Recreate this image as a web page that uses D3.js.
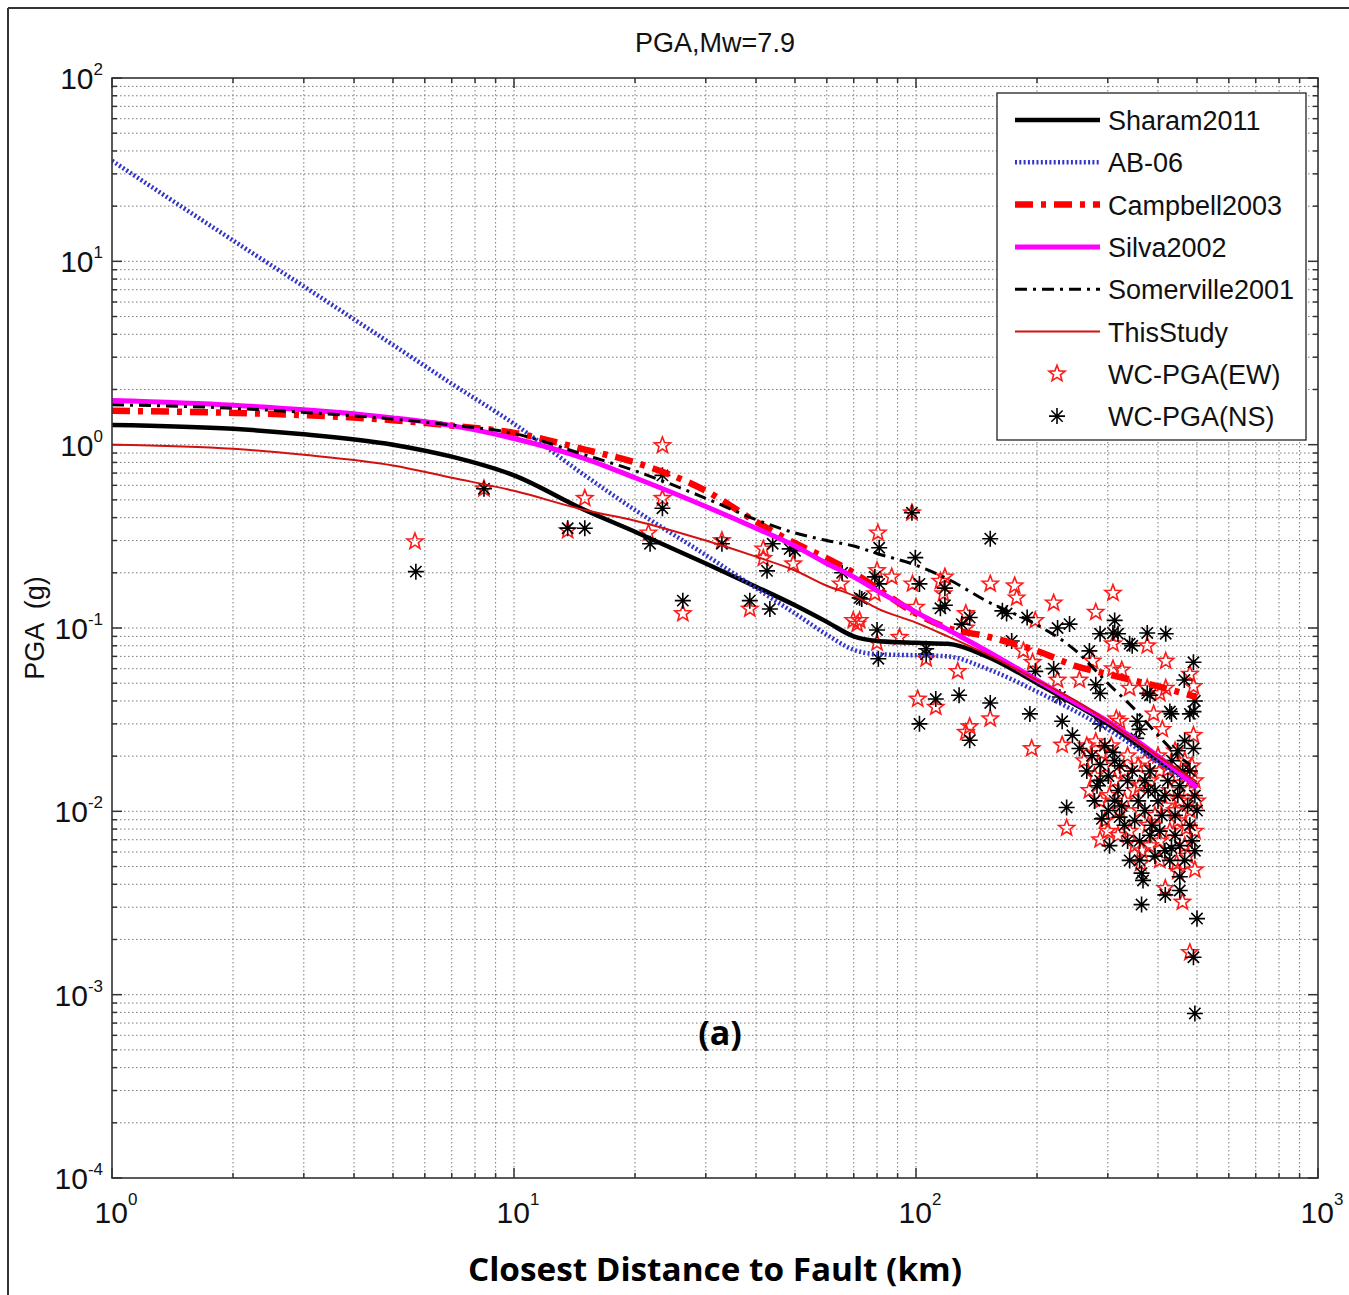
<!DOCTYPE html>
<html><head><meta charset="utf-8">
<script src="https://cdn.jsdelivr.net/npm/d3@7"></script>
<style>body{margin:0;background:#fff} svg{display:block}</style>
</head><body>
<svg id="c" width="1349" height="1295"></svg>
<script>
// ---- data ----
const distances   = [1, 2, 3, 5, 7, 10, 15, 20, 30, 40, 50, 60, 70, 80, 100, 120, 150, 200, 250, 300, 400, 500];
const sharam2011  = [1.28, 1.22, 1.14, 1.0, 0.86, 0.68, 0.44, 0.335, 0.225, 0.168, 0.133, 0.108, 0.09, 0.085, 0.083, 0.082, 0.07, 0.05, 0.038, 0.03, 0.019, 0.0138];
const ab06        = [35.4, 13.0, 7.3, 3.5, 2.15, 1.3, 0.68, 0.44, 0.25, 0.165, 0.12, 0.092, 0.076, 0.072, 0.071, 0.07, 0.06, 0.045, 0.035, 0.028, 0.0185, 0.0135];
const campbell2003 = [1.53, 1.49, 1.45, 1.36, 1.27, 1.16, 0.94, 0.80, 0.56, 0.38, 0.29, 0.24, 0.2, 0.165, 0.12, 0.1, 0.09, 0.075, 0.062, 0.056, 0.048, 0.042];
const silva2002   = [1.74, 1.64, 1.55, 1.40, 1.27, 1.08, 0.84, 0.66, 0.46, 0.35, 0.28, 0.225, 0.19, 0.16, 0.122, 0.098, 0.075, 0.052, 0.039, 0.031, 0.02, 0.0135];
const somervilleDist = [1, 2, 3, 5, 7, 10, 15, 20, 30, 40, 50, 60, 70, 80, 100, 120, 150, 200, 250, 300, 350, 400, 450, 480];
const somerville2001 = [1.65, 1.58, 1.50, 1.38, 1.28, 1.15, 0.88, 0.72, 0.51, 0.39, 0.33, 0.30, 0.28, 0.255, 0.22, 0.185, 0.14, 0.104, 0.075, 0.05, 0.036, 0.026, 0.02, 0.018];
const thisStudy   = [1.0, 0.95, 0.88, 0.77, 0.66, 0.56, 0.44, 0.385, 0.30, 0.245, 0.206, 0.17, 0.15, 0.128, 0.107, 0.09, 0.072, 0.052, 0.04, 0.031, 0.02, 0.0145];

const ewDist = [5.67, 8.42, 13.6, 15.0, 23.4, 23.4, 21.6, 26.3, 32.9, 38.6, 41.7, 41.7, 49.5, 65, 69.8, 97.7, 80.4, 87, 80, 80,
  100, 98, 118, 117, 133, 127, 101, 112, 106, 136, 153, 153, 178, 220, 309, 280, 198, 309, 376, 275,
  418, 480, 490, 185, 195, 225, 255, 340, 404, 490, 410, 231, 280, 321, 194, 133, 71.4, 79, 72.4, 91,
  115, 133, 325, 309, 376, 418, 315, 390, 237, 287, 300, 364, 362, 417, 460, 480, 470, 445, 494, 176,
  262, 278, 295, 312, 330, 350, 371, 382, 404, 428, 453, 480, 494, 466, 441, 416, 393, 360, 330, 303,
  287, 270, 318, 340, 428, 466, 494, 448, 404, 382,
  266, 290, 306, 336, 357, 400, 423, 448, 474, 486, 360, 321, 378, 441, 474, 404, 500, 295, 350, 448];
const ewPGA = [0.296, 0.575, 0.34, 0.51, 0.99, 0.51, 0.33, 0.12, 0.30, 0.127, 0.24, 0.27, 0.224, 0.174, 0.11, 0.425, 0.33, 0.19, 0.206, 0.083,
  0.13, 0.174, 0.19, 0.154, 0.12, 0.058, 0.041, 0.037, 0.068, 0.029, 0.032, 0.174, 0.146, 0.137, 0.155, 0.122, 0.11, 0.082, 0.08, 0.066,
  0.066, 0.056, 0.048, 0.075, 0.065, 0.052, 0.052, 0.047, 0.044, 0.026, 0.028, 0.023, 0.024, 0.031, 0.022, 0.027, 0.105, 0.154, 0.11, 0.089,
  0.18, 0.10, 0.059, 0.06, 0.047, 0.047, 0.032, 0.034, 0.0081, 0.0070, 0.0078, 0.0061, 0.0052, 0.0038, 0.0032, 0.0017, 0.0081, 0.0052, 0.0048, 0.17,
  0.0189, 0.0156, 0.0177, 0.0147, 0.0166, 0.0130, 0.0189, 0.0147, 0.0166, 0.0130, 0.0114, 0.0101, 0.0147, 0.0189, 0.0214, 0.0107, 0.0095, 0.0101, 0.0114, 0.0122,
  0.0114, 0.0130, 0.0074, 0.0078, 0.0078, 0.0065, 0.0078, 0.0089, 0.0069, 0.0065,
  0.0228, 0.0207, 0.0228, 0.0201, 0.0177, 0.0201, 0.0169, 0.0156, 0.0130, 0.0177, 0.0138, 0.0101, 0.0084, 0.0101, 0.0057, 0.0054, 0.0114, 0.0089, 0.0065, 0.0047];

const nsDist = [5.7, 8.42, 13.6, 15.0, 23.4, 23.4, 21.8, 26.3, 32.9, 38.6, 42.6, 43.3, 44, 50, 65.5, 97.7, 153, 81, 99.6, 81,
  73.3, 80, 80.6, 102, 106, 118, 136, 130, 112, 128, 102, 136, 153, 164, 168, 189, 225, 241, 287, 309,
  376, 418, 340, 270, 490, 465, 173, 198, 220, 280, 287, 376, 428, 490, 490, 432, 228, 231, 245, 255,
  353, 309, 287, 192, 48.5, 79, 72.4, 106, 115, 118, 312, 318, 345, 382, 480, 355, 360, 287, 237, 364,
  367, 417, 364, 453, 500, 490, 494, 432, 453, 321,
  266, 282, 301, 318, 336, 357, 378, 400, 423, 448, 474, 494, 461, 433, 409, 386, 350, 325, 301, 278,
  336, 360, 404, 441, 480, 494, 466, 428, 393, 340, 303, 382, 312, 466, 494, 448, 290,
  274, 295, 321, 345, 371, 393, 416, 453, 480, 500, 441, 371, 312, 287, 330, 382, 416, 453, 486, 360];
const nsPGA = [0.203, 0.575, 0.35, 0.35, 0.68, 0.45, 0.288, 0.141, 0.288, 0.141, 0.205, 0.127, 0.288, 0.264, 0.2, 0.425, 0.307, 0.274, 0.242, 0.174,
  0.144, 0.0976, 0.068, 0.174, 0.072, 0.133, 0.114, 0.105, 0.041, 0.043, 0.030, 0.0244, 0.039, 0.124, 0.12, 0.114, 0.10, 0.105, 0.093, 0.094,
  0.094, 0.093, 0.082, 0.075, 0.065, 0.052, 0.085, 0.058, 0.06, 0.049, 0.044, 0.044, 0.035, 0.035, 0.022, 0.034, 0.042, 0.031, 0.026, 0.022,
  0.025, 0.021, 0.018, 0.034, 0.27, 0.19, 0.146, 0.077, 0.128, 0.165, 0.11, 0.093, 0.08, 0.043, 0.034, 0.031, 0.028, 0.03, 0.0105, 0.0046,
  0.0042, 0.0035, 0.0031, 0.0037, 0.0026, 0.0016, 0.00079, 0.0063, 0.0044, 0.0093,
  0.0166, 0.0138, 0.0156, 0.0130, 0.0147, 0.0114, 0.0130, 0.0114, 0.0147, 0.0122, 0.0107, 0.0122, 0.0166, 0.0189, 0.0095, 0.0084, 0.0089, 0.0107, 0.0101, 0.0114,
  0.0069, 0.0069, 0.0078, 0.0074, 0.0084, 0.0061, 0.0054, 0.0054, 0.0057, 0.0054, 0.0065, 0.0166, 0.0189, 0.0243, 0.040, 0.0214, 0.0091,
  0.0201, 0.0228, 0.0177, 0.0166, 0.0147, 0.0130, 0.0122, 0.0138, 0.0166, 0.0101, 0.0095, 0.0101, 0.0114, 0.0147, 0.0084, 0.0074, 0.0061, 0.0065, 0.0069, 0.0054];

const xTickExps = [0, 1, 2, 3];
const yTickExps = [2, 1, 0, -1, -2, -3, -4];
const legendLabels = ["Sharam2011", "AB-06", "Campbell2003", "Silva2002", "Somerville2001", "ThisStudy", "WC-PGA(EW)", "WC-PGA(NS)"];

// ---- drawing ----
const svg = d3.select('#c');
const L = 112, R = 1318, T = 78, B = 1178;
const x = d3.scaleLog().domain([1, 1000]).range([L, R]);
const y = d3.scaleLog().domain([1e-4, 1e2]).range([B, T]);
const font = "'Liberation Sans', Arial, sans-serif";

svg.append('line').attr('x1', 8).attr('y1', 8).attr('x2', 1349).attr('y2', 8).attr('stroke', '#333').attr('stroke-width', 2);
svg.append('line').attr('x1', 8).attr('y1', 8).attr('x2', 8).attr('y2', 1295).attr('stroke', '#333').attr('stroke-width', 2);

svg.append('defs').append('clipPath').attr('id', 'clip')
  .append('rect').attr('x', L).attr('y', T).attr('width', R - L).attr('height', B - T);

const xGrid = [], yGrid = [];
for (let e = 0; e < 3; e++) for (let k = 1; k <= 9; k++) xGrid.push(k * Math.pow(10, e));
xGrid.push(1000);
for (let e = -4; e < 2; e++) for (let k = 1; k <= 9; k++) yGrid.push(k * Math.pow(10, e));
yGrid.push(100);

const g = svg.append('g');
g.selectAll('.gx').data(xGrid.filter(v => v > 1 && v < 1000)).enter().append('line')
  .attr('x1', d => x(d)).attr('x2', d => x(d)).attr('y1', T).attr('y2', B)
  .attr('stroke', '#7a7a7a').attr('stroke-width', 1).attr('stroke-dasharray', '1.5,2.5');
g.selectAll('.gy').data(yGrid.filter(v => v > 1e-4 && v < 100)).enter().append('line')
  .attr('y1', d => y(d)).attr('y2', d => y(d)).attr('x1', L).attr('x2', R)
  .attr('stroke', '#7a7a7a').attr('stroke-width', 1).attr('stroke-dasharray', '1.5,2.5');

const isMajor = v => Math.abs(Math.log10(v) - Math.round(Math.log10(v))) < 1e-9;
xGrid.forEach(v => {
  const len = isMajor(v) ? 10 : 5;
  g.append('line').attr('x1', x(v)).attr('x2', x(v)).attr('y1', B).attr('y2', B - len).attr('stroke', '#333').attr('stroke-width', 1.5);
  g.append('line').attr('x1', x(v)).attr('x2', x(v)).attr('y1', T).attr('y2', T + len).attr('stroke', '#333').attr('stroke-width', 1.5);
});
yGrid.forEach(v => {
  const len = isMajor(v) ? 10 : 5;
  g.append('line').attr('y1', y(v)).attr('y2', y(v)).attr('x1', L).attr('x2', L + len).attr('stroke', '#333').attr('stroke-width', 1.5);
  g.append('line').attr('y1', y(v)).attr('y2', y(v)).attr('x1', R).attr('x2', R - len).attr('stroke', '#333').attr('stroke-width', 1.5);
});

const plot = svg.append('g').attr('clip-path', 'url(#clip)');
const lineGen = (xs) => d3.line().x((d, i) => x(xs[i])).y(d => y(d)).curve(d3.curveMonotoneX);

const series = [
  { vals: sharam2011, xs: distances, color: '#000', w: 4.5, dash: null },
  { vals: ab06, xs: distances, color: '#3434cc', w: 4.5, dash: '2,2.3' },
  { vals: campbell2003, xs: distances, color: '#ff0000', w: 6.5, dash: '18,8,5,8' },
  { vals: silva2002, xs: distances, color: '#ff00ff', w: 5, dash: null },
  { vals: somerville2001, xs: somervilleDist, color: '#000', w: 3, dash: '12,6,3,6' },
  { vals: thisStudy, xs: distances, color: '#d41010', w: 2, dash: null }
];

const starPath = (() => {
  const pts = [];
  for (let i = 0; i < 10; i++) {
    const r = i % 2 === 0 ? 8.5 : 3.6;
    const a = -Math.PI / 2 + i * Math.PI / 5;
    pts.push([r * Math.cos(a), r * Math.sin(a)]);
  }
  return 'M' + pts.map(p => p[0].toFixed(2) + ',' + p[1].toFixed(2)).join('L') + 'Z';
})();
const astPath = (() => {
  const r = 8, d = r * 0.7071;
  return `M${-r},0L${r},0M0,${-r}L0,${r}M${-d},${-d}L${d},${d}M${-d},${d}L${d},${-d}`;
})();

plot.selectAll('.ew').data(ewDist).enter().append('path')
  .attr('d', starPath).attr('transform', (d, i) => `translate(${x(d)},${y(ewPGA[i])})`)
  .attr('fill', 'none').attr('stroke', '#ff1a1a').attr('stroke-width', 1.6);
plot.selectAll('.ns').data(nsDist).enter().append('path')
  .attr('d', astPath).attr('transform', (d, i) => `translate(${x(d)},${y(nsPGA[i])})`)
  .attr('fill', 'none').attr('stroke', '#000').attr('stroke-width', 1.6);

series.forEach(s => {
  plot.append('path').datum(s.vals).attr('d', lineGen(s.xs))
    .attr('fill', 'none').attr('stroke', s.color).attr('stroke-width', s.w)
    .attr('stroke-dasharray', s.dash);
});

svg.append('rect').attr('x', L).attr('y', T).attr('width', R - L).attr('height', B - T)
  .attr('fill', 'none').attr('stroke', '#333').attr('stroke-width', 1.6);

xTickExps.forEach(e => {
  const t = svg.append('text').attr('x', x(Math.pow(10, e)) + 4).attr('y', 1223)
    .attr('text-anchor', 'middle').attr('font-family', font).attr('font-size', 30).attr('fill', '#111');
  t.append('tspan').text('10');
  t.append('tspan').attr('dy', -18).attr('font-size', 17).text(String(e));
});
yTickExps.forEach(e => {
  const t = svg.append('text').attr('x', 103).attr('y', y(Math.pow(10, e)) + 11)
    .attr('text-anchor', 'end').attr('font-family', font).attr('font-size', 30).attr('fill', '#111');
  t.append('tspan').text('10');
  t.append('tspan').attr('dy', -14).attr('font-size', 17).text(String(e));
});

svg.append('text').attr('x', 715).attr('y', 52).attr('text-anchor', 'middle')
  .attr('font-family', font).attr('font-size', 27).attr('fill', '#111').text('PGA,Mw=7.9');
svg.append('text').attr('transform', 'translate(44,628) rotate(-90)').attr('text-anchor', 'middle')
  .attr('font-family', font).attr('font-size', 27).attr('fill', '#111').attr('xml:space', 'preserve').text('PGA  (g)');
svg.append('text').attr('x', 468).attr('y', 1281).attr('textLength', 494).attr('lengthAdjust', 'spacingAndGlyphs')
  .attr('font-family', "'Open Sans', sans-serif").attr('font-weight', 'bold').attr('font-size', 33).attr('fill', '#000')
  .text('Closest Distance to Fault (km)');
svg.append('text').attr('x', 720).attr('y', 1045).attr('text-anchor', 'middle')
  .attr('font-family', "'Open Sans', sans-serif").attr('font-weight', 'bold').attr('font-size', 34).attr('fill', '#000')
  .text('(a)');

const lg = svg.append('g');
lg.append('rect').attr('x', 997).attr('y', 93).attr('width', 309).attr('height', 347)
  .attr('fill', '#fff').attr('stroke', '#222').attr('stroke-width', 1.3);
legendLabels.forEach((lab, i) => {
  const cy = 120 + i * 42.3;
  if (i < 6) {
    const s = series[i];
    lg.append('line').attr('x1', 1015).attr('x2', 1100).attr('y1', cy).attr('y2', cy)
      .attr('stroke', s.color).attr('stroke-width', s.w).attr('stroke-dasharray', s.dash);
  } else if (i === 6) {
    lg.append('path').attr('d', starPath).attr('transform', `translate(1057,${cy})`)
      .attr('fill', 'none').attr('stroke', '#ff1a1a').attr('stroke-width', 1.6);
  } else {
    lg.append('path').attr('d', astPath).attr('transform', `translate(1057,${cy})`)
      .attr('fill', 'none').attr('stroke', '#000').attr('stroke-width', 1.6);
  }
  lg.append('text').attr('x', 1108).attr('y', cy + 10).attr('font-family', font)
    .attr('font-size', 27).attr('fill', '#111').text(lab);
});
</script>
</body></html>
